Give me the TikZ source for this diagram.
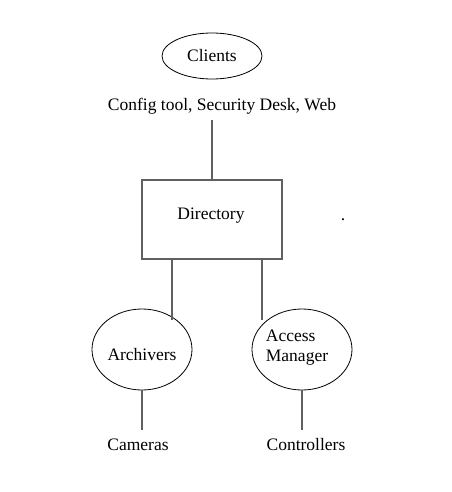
\documentclass[tikz,border=0pt]{standalone}
\usepackage{fontspec}
\setmainfont{Liberation Serif}
\usetikzlibrary{shapes.geometric}

\begin{document}
\begin{tikzpicture}
			[x=1pt,y=-1pt]
			\tikzstyle{every node}=[font=\fontsize{17.5}{20}\selectfont, inner sep=0pt]
			\tikzstyle{oval}=[ellipse, draw, line width=0.8pt, minimum width=100pt]
			\tikzstyle{link}=[line width=1.3pt, draw=black!62]
			\useasboundingbox (0,0) rectangle (451,492);
			
			\node[oval, minimum height=46pt]  (clients) at (212,56) {Clients};
			\node (tools) at (222,106) {Config tool, Security Desk, Web};
			\node[draw=black!62, line width=1.3pt, minimum width=140pt, minimum height=79pt] (dir) at (212,219.5) {};
			\node (dirtxt) at (211,216) {Directory};
			\node (dot) at (343,220) {.};
			
			\node[oval, minimum height=81pt]  (arch) at (142,349.5) {};
			\node (archtxt) at (142,355) {Archivers};
			\node[oval, minimum height=81pt]  (acm) at (302,349.5) {};
			\node[align=left] (acmtxt) at (297,348) {Access\\Manager};
			
			\node (cams) at (138,445) {Cameras};
			\node (ctrl) at (306,445) {Controllers};
			
			\coordinate (t1) at (212,120);
			\coordinate (a1) at (172,320);
			\coordinate (m1) at (262,320);
			\coordinate (c1) at (142,430);
			\coordinate (r1) at (302,430);
			
			\draw[link] (t1) -- (t1 |- dir.north);
			\draw[link] (a1 |- dir.south) -- (a1);
			\draw[link] (m1 |- dir.south) -- (m1);
			\draw[link] (arch.south) -- (c1);
			\draw[link] (acm.south) -- (r1);
		\end{tikzpicture}
\end{document}
